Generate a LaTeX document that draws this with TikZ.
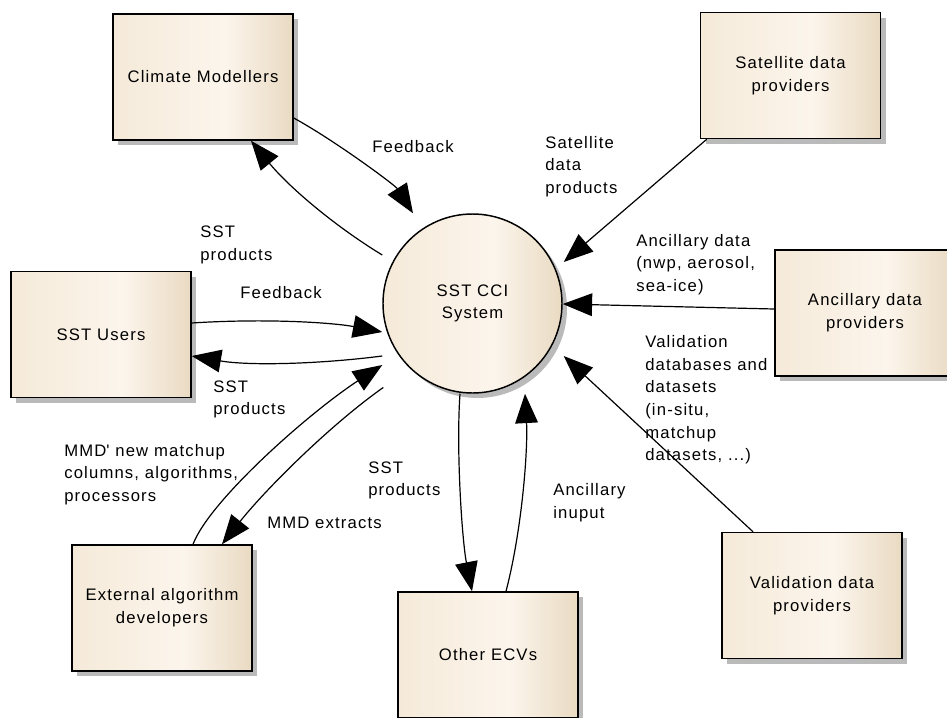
\documentclass[tikz,border=0pt]{standalone}
\usepackage{fontspec}
\newfontfamily\diagfont[LetterSpace=7]{Liberation Sans}
\usetikzlibrary{arrows.meta,calc,shadows}
\definecolor{boxL}{RGB}{245,234,217}
\definecolor{boxM}{RGB}{252,245,236}
\definecolor{boxR}{RGB}{233,218,194}
\pgfdeclarehorizontalshading{eashade}{100bp}{color(0bp)=(boxL); color(25bp)=(boxL); color(56bp)=(boxM); color(75bp)=(boxR); color(100bp)=(boxR)}
\begin{document}
\begin{tikzpicture}[x=0.75pt,y=-0.75pt,
  txt/.style={font=\diagfont\fontsize{12.5}{17}\selectfont},
  shadowed/.style={drop shadow={shadow xshift=3.75pt,shadow yshift=-3.75pt,fill=black!45,opacity=0.6}},
  ebox/.style={txt,shadowed,draw=black,line width=1.1pt,minimum width=135pt,minimum height=94.5pt,
    inner sep=0pt,align=center,shading=eashade},
  sysc/.style={txt,shadowed,circle,draw=black,line width=1.1pt,minimum size=134.25pt,
    inner sep=0pt,align=center,shading=eashade},
  flow/.style={line width=0.9pt,-{Triangle[length=22pt,width=17pt]}},
  lbl/.style={txt,anchor=west,inner sep=0pt,align=left}]
\useasboundingbox (0,0) rectangle (947,718);

% nodes
\node[ebox] (cm)    at (203,77)      {Climate Modellers};
\node[ebox] (sat)   at (790.5,75.5)  {Satellite data\\providers};
\node[ebox] (anc)   at (865,313)     {Ancillary data\\providers};
\node[ebox] (val)   at (812,595.5)   {Validation data\\providers};
\node[ebox] (users) at (101,334.5)   {SST Users};
\node[ebox] (ext)   at (162,608)     {External algorithm\\developers};
\node[ebox] (ecv)   at (488,655)     {Other ECVs};
\node[sysc] (sys)   at (472.5,303.5) {SST CCI\\System};

% connectors
\draw[flow] ($(cm.east)+(0,41)$) .. controls (334,140) and (395,185) .. ($(sys.north)+(-59.5,0)$);
\draw[flow] ($(sys.west)+(0,-48.5)$) .. controls (333,225) and (288,186) .. ($(cm.south)+(48,0)$);
\draw[flow] ($(users.east)+(0,-11.5)$) .. controls (270,318) and (335,323) .. ($(sys.west)+(0,28.5)$);
\draw[flow] ($(sys.west)+(0,52.5)$) .. controls (320,364) and (250,366) .. ($(users.east)+(0,21.5)$);
\draw[flow] ($(ext.north)+(31,0)$) .. controls (210,500) and (310,412) .. ($(sys.west)+(0,61.5)$);
\draw[flow] ($(sys.west)+(1,84)$) .. controls (330,425) and (265,490) .. ($(ext.north)+(60,0)$);
\draw[flow] ($(sys.south)+(-12.5,0)$) .. controls (456,450) and (462,540) .. ($(ecv.north)+(-16,0)$);
\draw[flow] ($(ecv.north)+(18,0)$) .. controls (522,530) and (528,450) .. ($(sys.south)+(52.5,0)$);
\draw[flow] ($(sat.south west)+(7,0)$) -- ($(sys.east)+(1,-41.5)$);
\draw[flow] ($(anc.west)+(0,-4)$) -- ($(sys.east)+(0,0.5)$);
\draw[flow] ($(val.north)+(-59,0)$) -- ($(sys.east)+(1,52.5)$);

% labels
\node[lbl] (l1)  at (372,147)   {Feedback};
\node[lbl] (l2)  at (545,166.5) {Satellite\\data\\products};
\node[lbl] (l3)  at (200,245)   {SST\\products};
\node[lbl] (l4)  at (240,293)   {Feedback};
\node[lbl] (l5)  at (213,399.5) {SST\\products};
\node[lbl] (l6)  at (64,474.5)  {MMD\textquotesingle\ new matchup\\columns, algorithms,\\processors};
\node[lbl] (l7)  at (267,523)   {MMD extracts};
\node[lbl] (l8)  at (368,480.5) {SST\\products};
\node[lbl] (l9)  at (553,502.5) {Ancillary\\inuput};
\node[lbl] (l10) at (636,264.5) {Ancillary data\\(nwp, aerosol,\\sea-ice)};
\node[lbl] (l11) at (645,400)   {Validation\\databases and\\datasets\\(in-situ,\\matchup\\datasets, ...)};
\end{tikzpicture}
\end{document}
